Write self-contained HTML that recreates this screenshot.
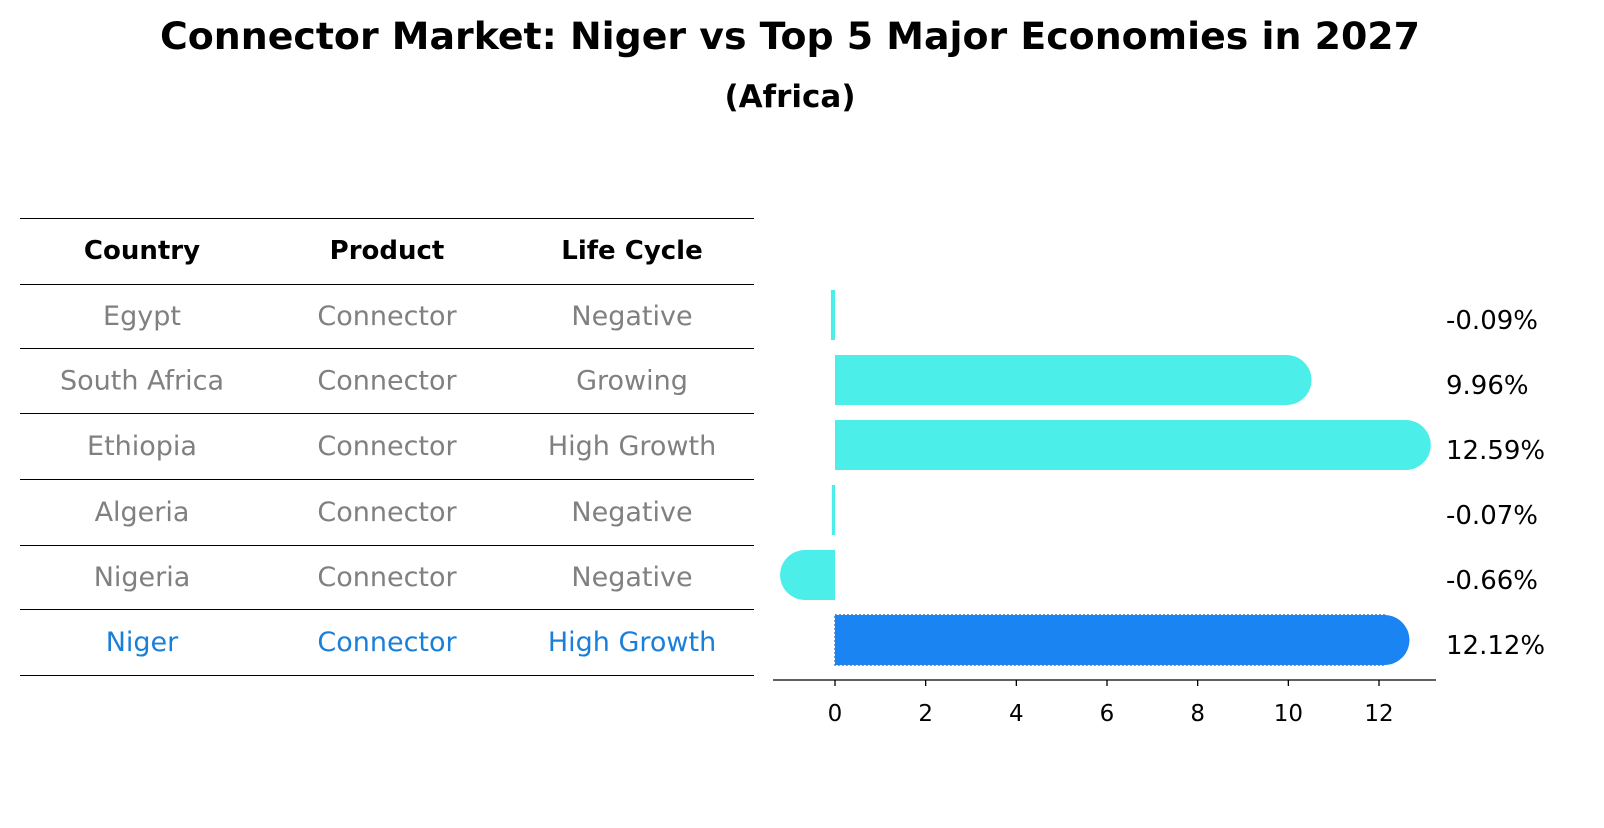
<!DOCTYPE html>
<html><head><meta charset="utf-8"><style>
body{margin:0;background:#fff;font-family:"Liberation Sans","DejaVu Sans",sans-serif;}
svg text{font-family:"DejaVu Sans","Liberation Sans",sans-serif;}
</style></head><body>
<svg width="1604" height="823" viewBox="0 0 1604 823" xmlns="http://www.w3.org/2000/svg">
<text x="790" y="49" text-anchor="middle" font-size="37" font-weight="bold" fill="#000" textLength="1260" lengthAdjust="spacingAndGlyphs">Connector Market: Niger vs Top 5 Major Economies in 2027</text>
<text x="790" y="107" text-anchor="middle" font-size="31" font-weight="bold" fill="#000">(Africa)</text>
<g id="table"></g>
<g id="bars"></g>
</svg>
<script>
const countries=["Egypt","South Africa","Ethiopia","Algeria","Nigeria","Niger"];
const products=["Connector","Connector","Connector","Connector","Connector","Connector"];
const lifecycles=["Negative","Growing","High Growth","Negative","Negative","High Growth"];
const values=[-0.09,9.96,12.59,-0.07,-0.66,12.12];
const valueLabels=["-0.09%","9.96%","12.59%","-0.07%","-0.66%","12.12%"];
const ticks=[0,2,4,6,8,10,12];
const NS="http://www.w3.org/2000/svg";
function mk(tag,attrs,parent){const e=document.createElementNS(NS,tag);for(const k in attrs)e.setAttribute(k,attrs[k]);parent.appendChild(e);return e;}
const tbl=document.getElementById('table');
const lineYs=[218,284,348,413,479,545,609,675];
lineYs.forEach((y,i)=>{const l=mk('line',{x1:20,x2:754,y1:y+0.5,y2:y+0.5,stroke:'#000','stroke-width':1},tbl);

});
const colX=[142,387,632];
["Country","Product","Life Cycle"].forEach((h,i)=>{const t=mk('text',{x:colX[i],y:259,'text-anchor':'middle','font-size':26,'font-weight':'bold',fill:'#000'},tbl);t.textContent=h;

});
const rowY=i=>(lineYs[i+1]+lineYs[i+2])/2+9;
countries.forEach((c,i)=>{const col=i===countries.length-1?'#1a7fd9':'#808080';
[c,products[i],lifecycles[i]].forEach((v,j)=>{const t=mk('text',{x:colX[j],y:rowY(i),'text-anchor':'middle','font-size':27,fill:col},tbl);t.textContent=v;

});});
const bg=document.getElementById('bars');
const x0=835,unit=(1379-835)/12;
const xs=v=>x0+v*unit;
const cy=i=>315+i*65;
const bh=50,r=25;
values.forEach((v,i)=>{const last=i===values.length-1;const col=last?'#1a84f2':'#4ceeea';
const a=Math.min(xs(0),xs(v)),b=Math.max(xs(0),xs(v));
const rect=mk('rect',{x:a,y:cy(i)-bh/2,width:Math.max(b-a,3),height:bh,fill:col},bg);
if(last){rect.setAttribute('stroke','#3a7ad0');rect.setAttribute('stroke-dasharray','2,2');rect.setAttribute('stroke-width','1.5');}


if(b-a>10){const cx=v>=0?b:a;const c=mk('circle',{cx:cx,cy:cy(i),r:r,fill:col},bg);

}
const t=mk('text',{x:1446,y:cy(i)+14,'font-size':26,fill:'#000'},bg);t.textContent=valueLabels[i];

});
const ax=mk('line',{x1:773,x2:1436,y1:680,y2:680,stroke:'#000','stroke-width':1.3},bg);


ticks.forEach(t=>{const l=mk('line',{x1:xs(t),x2:xs(t),y1:680,y2:686,stroke:'#000','stroke-width':1.3},bg);


const tx=mk('text',{x:xs(t),y:721,'text-anchor':'middle','font-size':23,fill:'#000'},bg);tx.textContent=t;

});
</script>
</body></html>
